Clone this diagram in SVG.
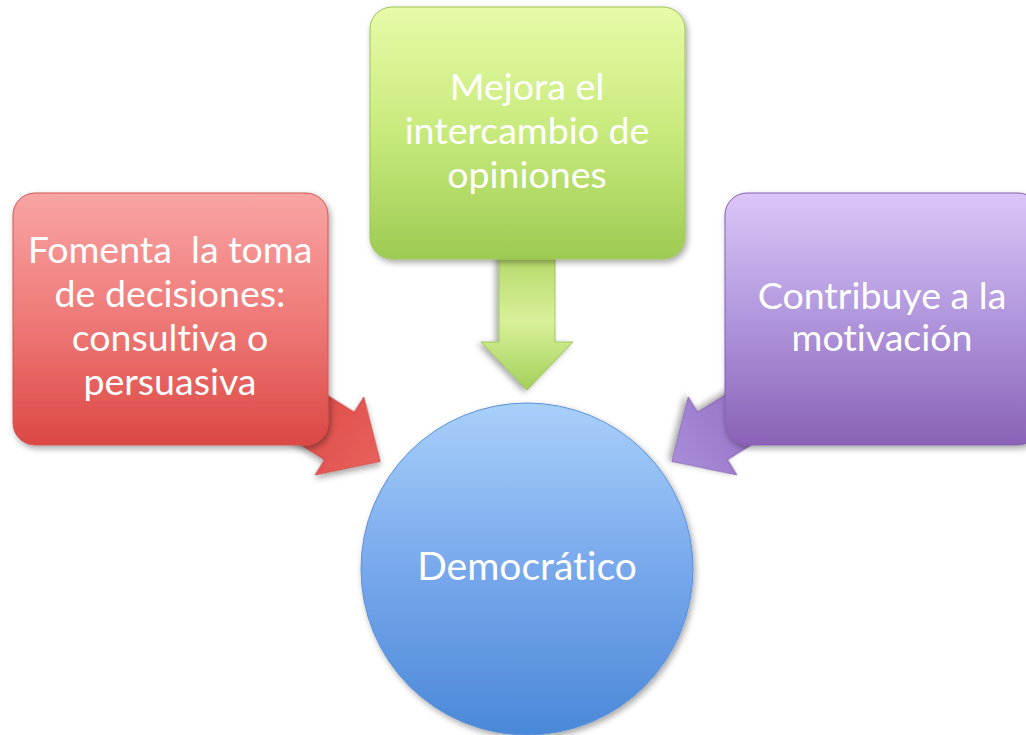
<svg xmlns="http://www.w3.org/2000/svg" width="1026" height="735" viewBox="0 0 1026 735">
<style>
.t{font-family:Lato,"Liberation Sans",sans-serif;font-size:37.5px;fill:#ffffff;text-anchor:middle;white-space:pre;font-variant-ligatures:none;font-feature-settings:"liga" 0}
.box{stroke-width:1}
</style>
<defs>
<filter id="sh" x="-20%" y="-20%" width="140%" height="140%">
<feDropShadow dx="2" dy="3" stdDeviation="3" flood-color="#000" flood-opacity="0.35"/>
</filter>
<linearGradient id="gR" x1="0" y1="0" x2="0" y2="1"><stop offset="0" stop-color="#f9a4a4"/><stop offset="0.5" stop-color="#ee7a78"/><stop offset="1" stop-color="#dc4844"/></linearGradient>
<linearGradient id="gG" x1="0" y1="0" x2="0" y2="1"><stop offset="0" stop-color="#e8fba8"/><stop offset="0.5" stop-color="#c8ea7c"/><stop offset="1" stop-color="#9ccb52"/></linearGradient>
<linearGradient id="gP" x1="0" y1="0" x2="0" y2="1"><stop offset="0" stop-color="#dcc6f8"/><stop offset="0.5" stop-color="#b096dc"/><stop offset="1" stop-color="#8a62b6"/></linearGradient>
<linearGradient id="gB" x1="0" y1="0" x2="0" y2="1"><stop offset="0" stop-color="#a8d0fa"/><stop offset="0.5" stop-color="#78a8ec"/><stop offset="1" stop-color="#4a88d8"/></linearGradient>
<linearGradient id="aR" x1="0" y1="0" x2="1" y2="0"><stop offset="0" stop-color="#d84440"/><stop offset="1" stop-color="#e8605c"/></linearGradient>
<linearGradient id="aG" x1="0" y1="0" x2="1" y2="0"><stop offset="0" stop-color="#b2d866"/><stop offset="0.5" stop-color="#d8f09a"/><stop offset="1" stop-color="#a4d05a"/></linearGradient>
<linearGradient id="aP" x1="0" y1="0" x2="1" y2="0"><stop offset="0" stop-color="#8e68be"/><stop offset="1" stop-color="#a88cd8"/></linearGradient>
<path id="arr" d="M-90,-28 L0,-28 L0,-46 L48,0 L0,46 L0,28 L-90,28 Z"/>
</defs>
<g id="connectors">
<use href="#arr" fill="url(#aR)" stroke="#c03a36" stroke-width="0.8" filter="url(#sh)" transform="translate(339.5,436) rotate(32)"/>
<use href="#arr" fill="url(#aG)" stroke="#92c050" stroke-width="0.8" filter="url(#sh)" transform="translate(527,342) rotate(90)"/>
<use href="#arr" fill="url(#aP)" stroke="#7652a0" stroke-width="0.8" filter="url(#sh)" transform="translate(712.5,436) rotate(148)"/>
</g>
<g id="node-democratico">
<circle cx="527" cy="569" r="166" fill="url(#gB)" stroke="#5a90d8" stroke-width="1" filter="url(#sh)"/>
<text class="t" x="527" y="580" style="font-size:39px">Democrático</text>
</g>
<g id="node-fomenta">
<rect x="13" y="193" width="315" height="252" rx="22" fill="url(#gR)" stroke="#d05450" class="box" filter="url(#sh)"/>
<text class="t" x="170" y="263">Fomenta  la toma</text>
<text class="t" x="170" y="307">de decisiones:</text>
<text class="t" x="170" y="351">consultiva o</text>
<text class="t" x="170" y="395">persuasiva</text>
</g>
<g id="node-mejora">
<rect x="370" y="7" width="315" height="252" rx="22" fill="url(#gG)" stroke="#9cc458" class="box" filter="url(#sh)"/>
<text class="t" x="527" y="100">Mejora el</text>
<text class="t" x="527" y="144">intercambio de</text>
<text class="t" x="527" y="188">opiniones</text>
</g>
<g id="node-contribuye">
<rect x="725" y="193" width="315" height="252" rx="22" fill="url(#gP)" stroke="#8460b0" class="box" filter="url(#sh)"/>
<text class="t" x="882" y="309">Contribuye a la</text>
<text class="t" x="882" y="351">motivación</text>
</g>
</svg>
